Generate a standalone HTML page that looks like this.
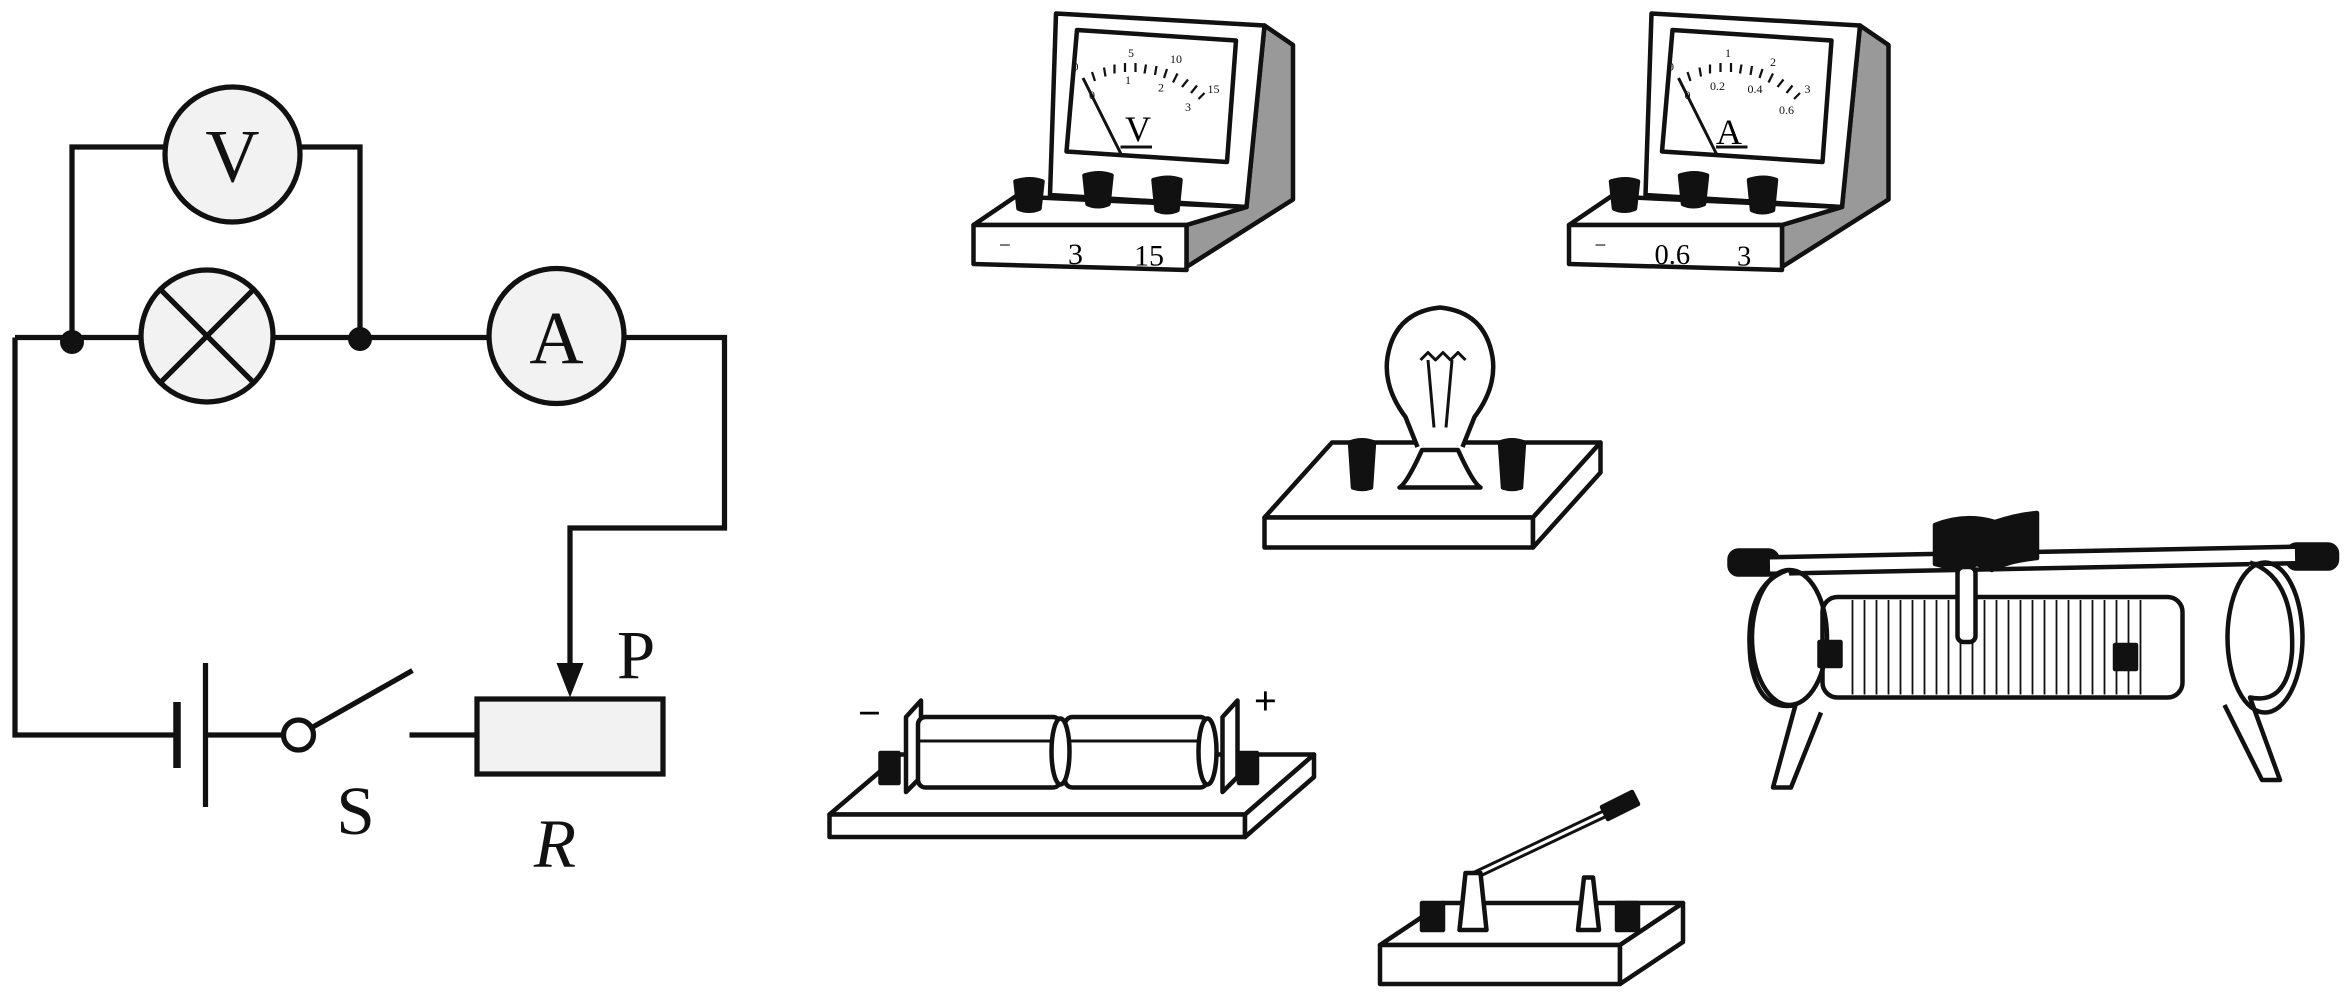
<!DOCTYPE html>
<html><head><meta charset="utf-8"><style>html,body{margin:0;padding:0;background:#fff}svg{display:block}</style></head>
<body>
<svg width="2352" height="999" viewBox="0 0 1568 666" xmlns="http://www.w3.org/2000/svg" font-family="Liberation Serif, serif">
<defs>
<g id="meter" stroke="#111" stroke-width="3" stroke-linejoin="round">
  <polygon points="843,17 862,30 862,133 791,178 791,150 831,138" fill="#999"/>
  <polygon points="704,9 843,17 831,138 700,130" fill="#fff"/>
  <polygon points="718,20 824,27 818,108 711,101" fill="#fff"/>
  <polygon points="649,150 677,131 831,138 791,150" fill="#fff"/>
  <polygon points="649,150 791,150 791,180 649,176" fill="#fff"/>
  <line x1="722" y1="52" x2="748" y2="104" stroke-width="2"/>
  <line x1="747" y1="98" x2="768" y2="98" stroke-width="2"/>
  <g stroke-width="1.5">
    <line x1="728" y1="48" x2="730" y2="54"/><line x1="736" y1="45" x2="737" y2="51"/><line x1="743" y1="43" x2="743" y2="49"/>
    <line x1="750" y1="42" x2="750" y2="48"/><line x1="757" y1="42" x2="757" y2="48"/><line x1="764" y1="43" x2="763" y2="49"/>
    <line x1="771" y1="44" x2="770" y2="50"/><line x1="778" y1="46" x2="776" y2="52"/><line x1="785" y1="49" x2="782" y2="55"/>
    <line x1="792" y1="53" x2="788" y2="58"/><line x1="798" y1="57" x2="794" y2="62"/><line x1="803" y1="62" x2="799" y2="66"/>
  </g>
  <path d="M677,121 q10,-3 18,0 l-2,18 q-7,3 -14,0 z" fill="#111"/>
  <path d="M723,117 q10,-3 18,0 l-2,19 q-7,3 -14,0 z" fill="#111"/>
  <path d="M769,120 q10,-3 18,0 l-2,20 q-7,3 -14,0 z" fill="#111"/>
</g>
</defs>
<use href="#meter"/>
<g font-size="8" fill="#111"><text x="715" y="47">0</text><text x="752" y="38">5</text><text x="780" y="42">10</text><text x="805" y="62">15</text>
<text x="726" y="66">0</text><text x="750" y="56">1</text><text x="772" y="61">2</text><text x="790" y="74">3</text></g>
<text x="750" y="94" font-size="24">V</text>
<text x="666" y="168" font-size="14">−</text><text x="712" y="176" font-size="20">3</text><text x="756" y="177" font-size="20">15</text>
<use href="#meter" x="397"/>
<g font-size="8" fill="#111"><text x="1112" y="47">0</text><text x="1150" y="38">1</text><text x="1180" y="44">2</text><text x="1203" y="62">3</text>
<text x="1123" y="66">0</text><text x="1140" y="60">0.2</text><text x="1165" y="62">0.4</text><text x="1186" y="76">0.6</text></g>
<text x="1144" y="96" font-size="24">A</text>
<text x="1063" y="168" font-size="14">−</text><text x="1103" y="176" font-size="19">0.6</text><text x="1158" y="177" font-size="19">3</text>

<!-- circuit -->
<g stroke="#111" stroke-width="3.5" fill="none">
<polyline points="110,98 48,98 48,225"/><polyline points="200,98 240,98 240,225"/>
<line x1="10" y1="225" x2="95" y2="225"/><line x1="182" y1="225" x2="327" y2="225"/>
<polyline points="416,225 483,225 483,352 380,352 380,446"/>
<polyline points="10,225 10,490 118,490"/>
<line x1="137" y1="490" x2="189" y2="490"/>
<line x1="208" y1="485" x2="275" y2="447"/>
<line x1="273" y1="490" x2="318" y2="490"/>
<line x1="118" y1="468" x2="118" y2="512" stroke-width="5"/>
<line x1="137" y1="442" x2="137" y2="538"/>
<circle cx="155" cy="103" r="45" fill="#f2f2f2"/>
<circle cx="138" cy="224" r="44" fill="#f2f2f2"/>
<line x1="107" y1="193" x2="169" y2="255"/><line x1="169" y1="193" x2="107" y2="255"/>
<circle cx="371" cy="224" r="45" fill="#f2f2f2"/>
<circle cx="199" cy="490" r="10" fill="#fff"/>
<rect x="318" y="466" width="124" height="50" fill="#f2f2f2"/>
</g>
<polygon points="371,442 389,442 380,465" fill="#111"/>
<circle cx="48" cy="228" r="8" fill="#111"/><circle cx="240" cy="226" r="8" fill="#111"/>
<g font-size="50" fill="#111" text-anchor="middle">
<text x="155" y="121">V</text><text x="371" y="242">A</text>
<text x="424" y="452" font-size="46">P</text><text x="237" y="556" font-size="46">S</text>
<text x="370" y="578" font-size="46" font-style="italic">R</text></g>

<!-- bulb -->
<g stroke="#111" stroke-width="3" stroke-linejoin="round">
<polygon points="843,345 1022,345 1067,295 888,295" fill="#fff"/>
<polygon points="843,345 1022,345 1022,365 843,365" fill="#fff"/>
<polygon points="1022,345 1067,295 1067,315 1022,365" fill="#fff"/>
<path d="M945,298 l-8,-20 q-15,-20 -12,-40 q5,-30 35,-33 q30,3 35,33 q3,20 -12,40 l-8,20" fill="#fff"/>
<path d="M948,300 q-10,22 -15,25 h54 q-5,-3 -15,-25 z" fill="#fff"/>
<path d="M947,240 l5,-5 5,5 5,-5 5,5 5,-5 5,5 M952,240 l4,45 M968,240 l-4,45" fill="none" stroke-width="2"/>
<path d="M900,295 q8,-3 16,0 l-2,30 q-6,2 -12,0 z" fill="#111"/>
<path d="M1000,295 q8,-3 16,0 l-2,30 q-6,2 -12,0 z" fill="#111"/>
</g>

<!-- battery -->
<g stroke="#111" stroke-width="3" stroke-linejoin="round">
<polygon points="553,543 830,543 876,503 600,503" fill="#fff"/>
<polygon points="553,543 830,543 830,558 553,558" fill="#fff"/>
<polygon points="830,543 876,503 876,518 830,558" fill="#fff"/>
<polygon points="604,478 614,467 614,518 604,528" fill="#fff"/>
<polygon points="815,478 825,467 825,518 815,528" fill="#fff"/>
<rect x="612" y="478" width="95" height="47" rx="5" fill="#fff"/>
<rect x="710" y="478" width="95" height="47" rx="5" fill="#fff"/>
<line x1="612" y1="494" x2="707" y2="494" stroke-width="2"/><line x1="710" y1="494" x2="805" y2="494" stroke-width="2"/>
<ellipse cx="707" cy="501" rx="6" ry="22" fill="#fff"/><ellipse cx="805" cy="501" rx="6" ry="22" fill="#fff"/>
<path d="M587,502 h12 v20 h-12 z" fill="#111"/><path d="M826,502 h12 v20 h-12 z" fill="#111"/>
</g>
<text x="572" y="484" font-size="26" font-family="Liberation Sans, sans-serif">−</text>
<text x="836" y="476" font-size="26" font-family="Liberation Sans, sans-serif">+</text>

<!-- switch -->
<g stroke="#111" stroke-width="3" stroke-linejoin="round">
<polygon points="920,630 1080,630 1122,602 962,602" fill="#fff"/>
<polygon points="920,630 1080,630 1080,656 920,656" fill="#fff"/>
<polygon points="1080,630 1122,602 1122,628 1080,656" fill="#fff"/>
<line x1="980" y1="585" x2="1075" y2="540" stroke-width="6"/>
<line x1="980" y1="585" x2="1075" y2="540" stroke="#fff" stroke-width="2"/>
<path d="M1068,538 l20,-10 4,8 -20,10 z" fill="#111"/>
<path d="M973,620 l4,-38 h10 l4,38 z" fill="#fff"/>
<path d="M1052,620 l4,-35 h6 l4,35 z" fill="#fff"/>
<path d="M948,602 h14 v18 h-14 z M1078,602 h14 v18 h-14 z" fill="#111"/>
</g>

<!-- rheostat -->
<g stroke="#111" stroke-width="3" stroke-linejoin="round">
<rect x="1153" y="367" width="32" height="16" rx="6" fill="#111"/>
<rect x="1525" y="363" width="33" height="16" rx="6" fill="#111"/>
<line x1="1180" y1="377" x2="1530" y2="370" stroke-width="14"/>
<line x1="1180" y1="377" x2="1530" y2="370" stroke="#fff" stroke-width="8"/>
<path d="M1192,380 q-30,10 -25,60 q5,35 30,30 l-15,55 h12 l20,-50 M1500,375 q30,10 28,60 q-3,35 -28,30 l20,55 h-12 l-25,-50" fill="#fff"/>
<rect x="1215" y="398" width="240" height="67" rx="10" fill="#fff"/>
<g stroke-width="1.2">
<path d="M1235,400 v63 M1243,400 v63 M1251,400 v63 M1259,400 v63 M1267,400 v63 M1275,400 v63 M1283,400 v63 M1291,400 v63 M1299,400 v63 M1307,400 v63 M1315,400 v63 M1323,400 v63 M1331,400 v63 M1339,400 v63 M1347,400 v63 M1355,400 v63 M1363,400 v63 M1371,400 v63 M1379,400 v63 M1387,400 v63 M1395,400 v63 M1403,400 v63 M1411,400 v63 M1419,400 v63 M1427,400 v63" fill="none"/>
</g>
<ellipse cx="1193" cy="425" rx="25" ry="45" fill="none"/>
<ellipse cx="1510" cy="425" rx="25" ry="50" fill="none"/>
<path d="M1290,350 q20,-8 40,-2 q15,-5 28,-6 v30 q-20,2 -30,8 l-10,-4 q-10,5 -28,0 z" fill="#111"/>
<rect x="1305" y="378" width="12" height="50" rx="4" fill="#fff"/>
<rect x="1213" y="428" width="14" height="16" fill="#111"/><rect x="1410" y="430" width="14" height="16" fill="#111"/>
</g>
</svg>
</body></html>
